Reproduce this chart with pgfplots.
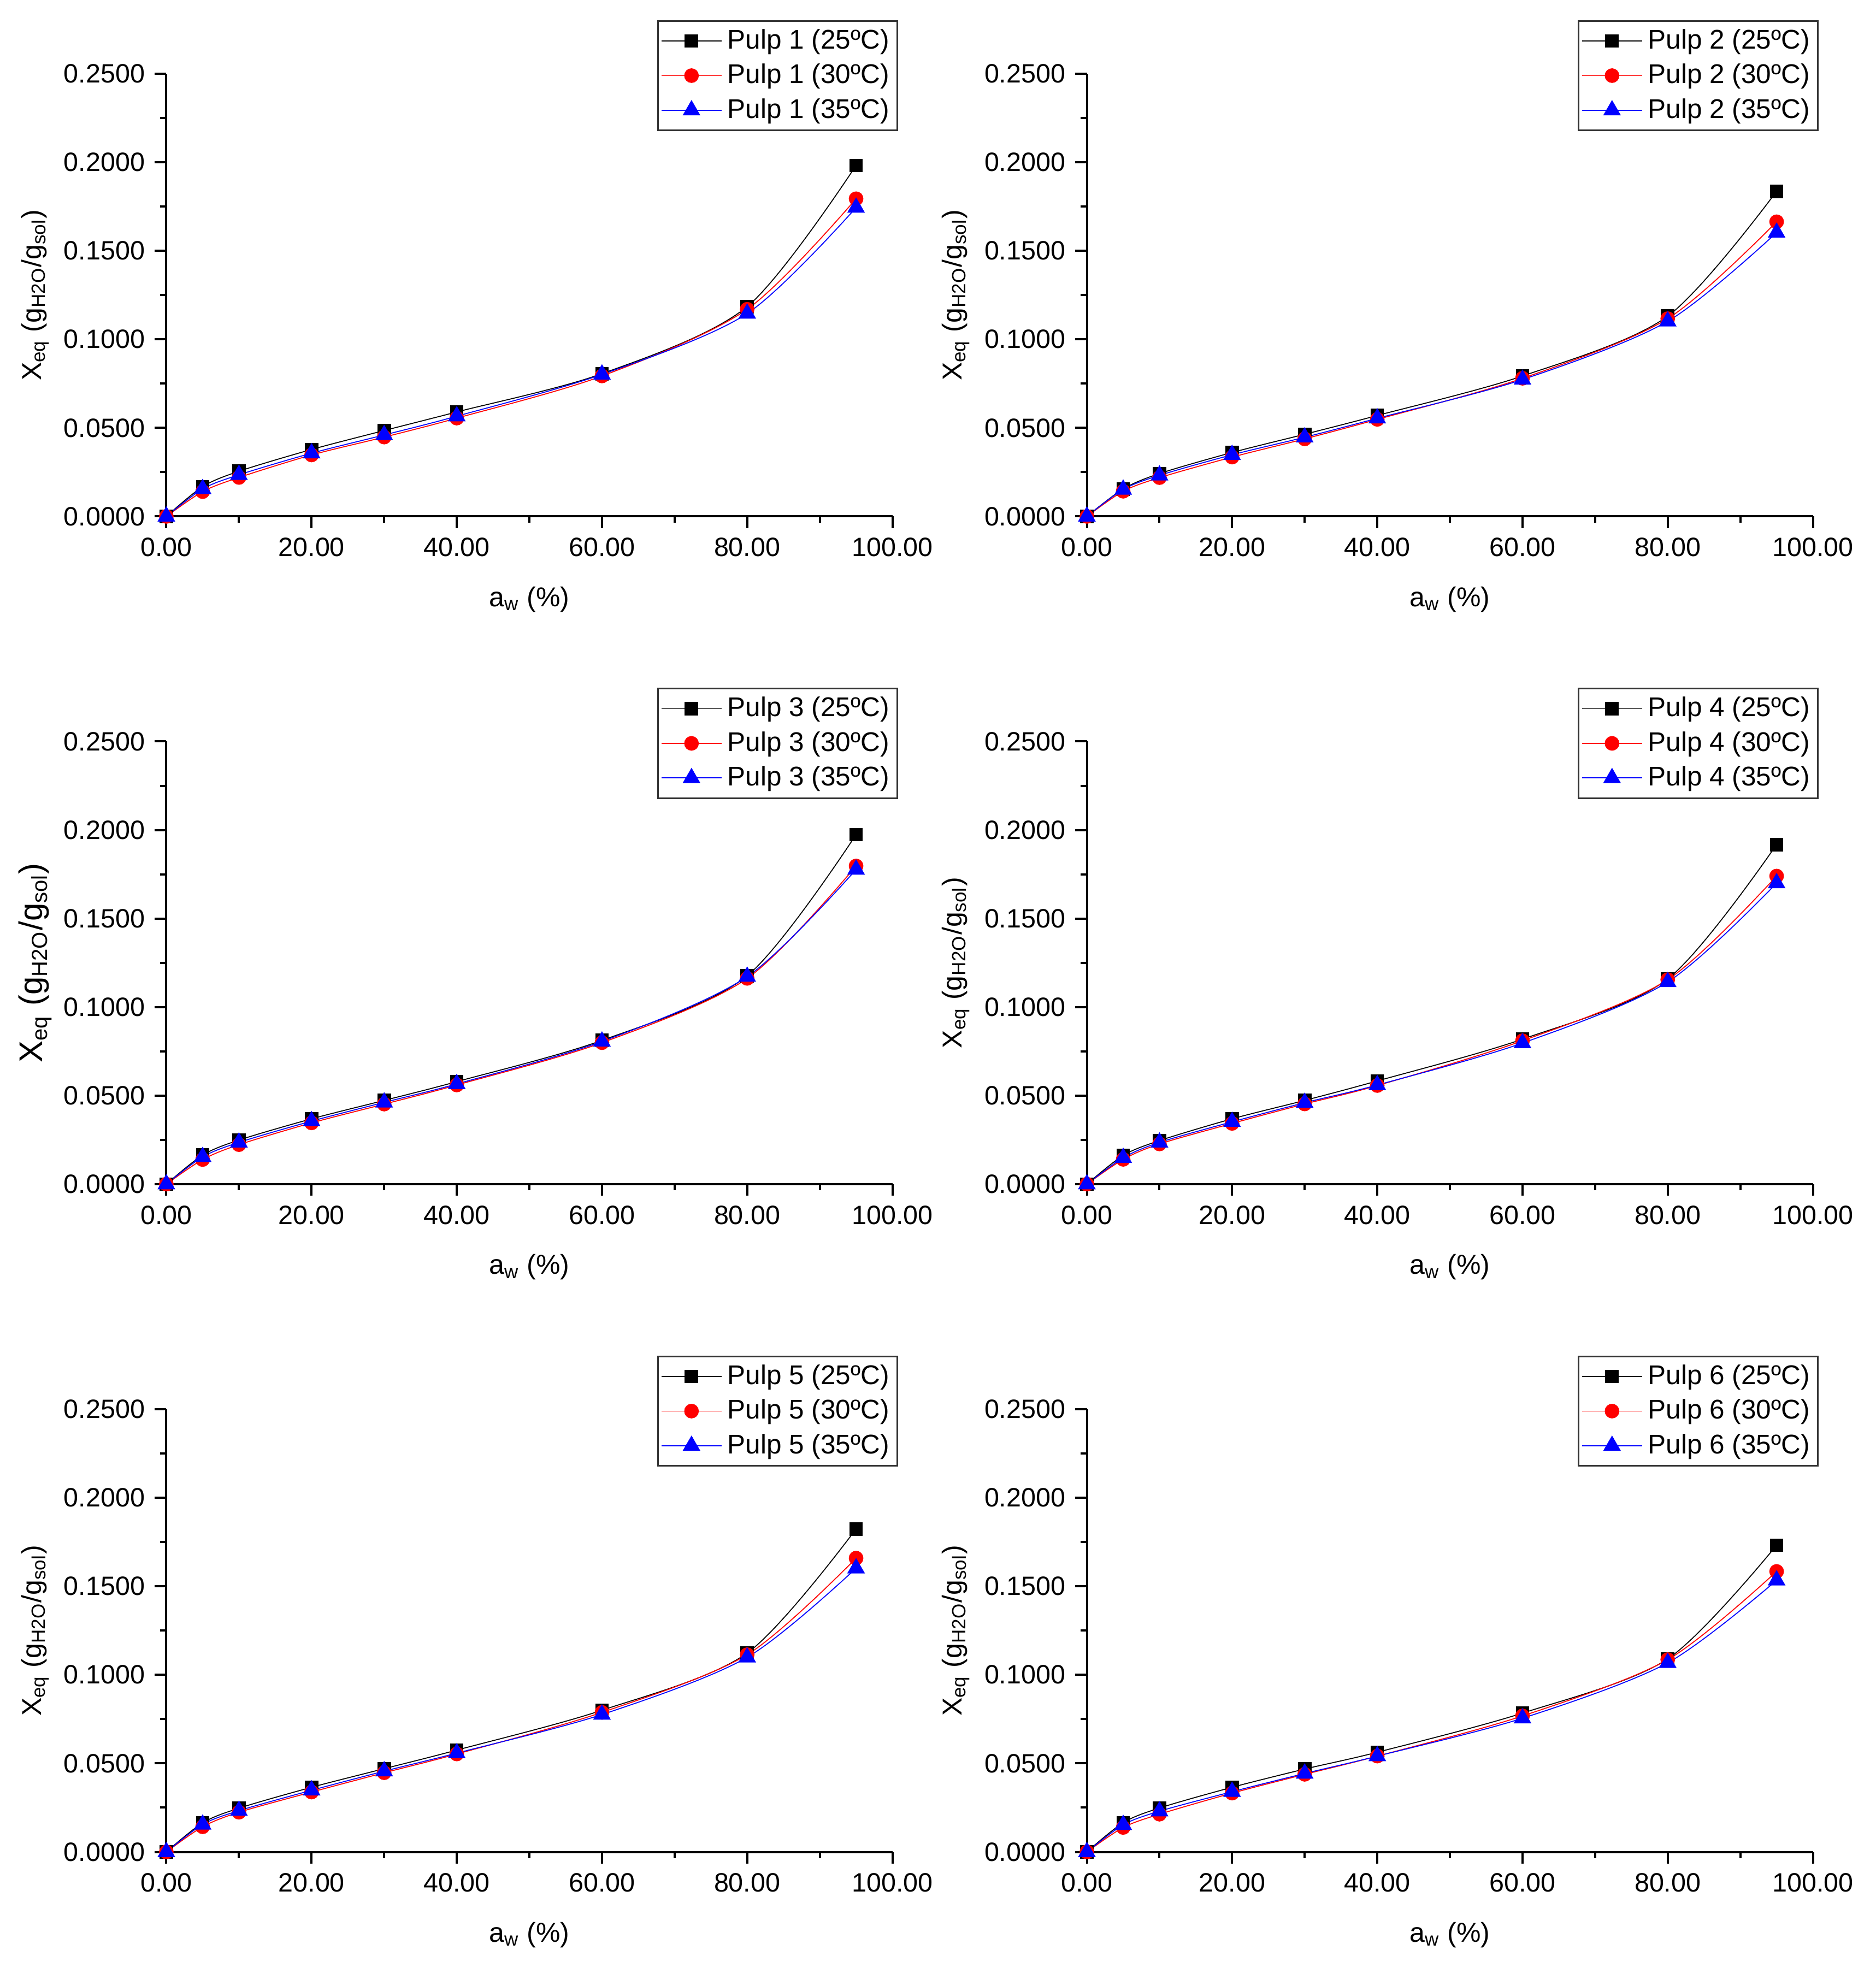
\documentclass[border=0pt]{standalone}
\usepackage{fontspec}
\setmainfont{Liberation Sans}
\usepackage{pgfplots}
\usepackage{pgfplotstable}
\pgfplotsset{compat=1.18}

\pgfplotstableread{
aw a b c
0 0 0 0
5 0.0168 0.0140 0.0155
10 0.0255 0.0220 0.0235
20 0.0378 0.0347 0.0357
30 0.0485 0.0448 0.0460
40 0.0590 0.0555 0.0566
60 0.0806 0.0793 0.0802
80 0.1185 0.1170 0.1146
95 0.1982 0.1794 0.1744
}\pone
\pgfplotstableread{
aw a b c
0 0 0 0
5 0.0155 0.0142 0.0152
10 0.0242 0.0219 0.0232
20 0.0361 0.0335 0.0348
30 0.0464 0.0438 0.0447
40 0.0570 0.0548 0.0554
60 0.0793 0.0780 0.0773
80 0.1131 0.1117 0.1102
95 0.1836 0.1664 0.1603
}\ptwo
\pgfplotstableread{
aw a b c
0 0 0 0
5 0.0164 0.0139 0.0154
10 0.0249 0.0223 0.0236
20 0.0369 0.0346 0.0356
30 0.0473 0.0452 0.0462
40 0.0579 0.0560 0.0566
60 0.0812 0.0799 0.0806
80 0.1177 0.1162 0.1172
95 0.1974 0.1797 0.1777
}\pthree
\pgfplotstableread{
aw a b c
0 0 0 0
5 0.0162 0.0140 0.0149
10 0.0246 0.0227 0.0236
20 0.0369 0.0343 0.0352
30 0.0473 0.0453 0.0460
40 0.0583 0.0557 0.0560
60 0.0819 0.0810 0.0797
80 0.1159 0.1155 0.1142
95 0.1918 0.1740 0.1700
}\pfour
\pgfplotstableread{
aw a b c
0 0 0 0
5 0.0164 0.0142 0.0155
10 0.0247 0.0224 0.0233
20 0.0365 0.0338 0.0348
30 0.0470 0.0447 0.0456
40 0.0575 0.0553 0.0558
60 0.0800 0.0788 0.0776
80 0.1123 0.1114 0.1099
95 0.1824 0.1659 0.1602
}\pfive
\pgfplotstableread{
aw a b c
0 0 0 0
5 0.0165 0.0138 0.0153
10 0.0248 0.0213 0.0230
20 0.0365 0.0332 0.0340
30 0.0468 0.0438 0.0443
40 0.0563 0.0541 0.0541
60 0.0784 0.0768 0.0755
80 0.1090 0.1086 0.1068
95 0.1732 0.1584 0.1534
}\psix

\pgfplotsset{
  pulp/.style={
    scale only axis, width=265.8pt, height=162.1pt,
    xmin=0, xmax=100, ymin=0, ymax=0.25,
    axis lines=left, axis line style={-, line width=0.8pt, black},
    xtick={0,20,40,60,80,100}, minor x tick num=1,
    ytick={0,0.05,0.1,0.15,0.2,0.25}, minor y tick num=1,
    tick align=outside, major tick length=4.3pt, minor tick length=2.3pt,
    tick style={line width=0.8pt, black},
    scaled x ticks=false, scaled y ticks=false,
    /pgf/number format/assume math mode=true,
    tick label style={font=\fontsize{9.7}{11}\selectfont},
    xticklabel style={/pgf/number format/.cd, fixed, fixed zerofill, precision=2},
    yticklabel style={/pgf/number format/.cd, fixed, fixed zerofill, precision=4},
    xlabel={a\textsubscript{w} (\%)},
    xlabel style={at={(axis description cs:0.5,0)}, anchor=base, yshift=-33pt, font=\fontsize{10}{12}\selectfont},
    ylabel={X\textsubscript{eq} (g\textsubscript{H2O}/g\textsubscript{sol})},
    legend style={at={(rel axis cs:1.008,1.121)}, anchor=north east,
      draw=black!80, line width=0.6pt, font=\fontsize{9.9}{11}\selectfont,
      inner sep=1pt, row sep=0pt, nodes={inner sep=2pt}},
    legend cell align=left,
    legend image code/.code={\draw[mark repeat=2,mark phase=2,##1] plot coordinates {(0pt,0pt) (11pt,0pt) (22pt,0pt)};},
  },
  sa/.style={color=black, line width=0.35pt, mark=square*, mark size=2.3pt, smooth},
  sb/.style={color=red, line width=0.35pt, mark=*, mark size=2.5pt, smooth},
  sc/.style={color=blue, line width=0.35pt, mark=triangle*, mark size=3.4pt, smooth},
}

\newcommand{\panel}[5]{%
\begin{axis}[pulp, at={(#1,#2)}, anchor=south west,
  ylabel style={at={([xshift=-48pt]axis description cs:0,0.5)}, anchor=center, font=#5}]
\addplot[sa] table[x=aw,y=a]{#3}; \addlegendentry{Pulp #4 (25ºC)}
\addplot[sb] table[x=aw,y=b]{#3}; \addlegendentry{Pulp #4 (30ºC)}
\addplot[sc] table[x=aw,y=c]{#3}; \addlegendentry{Pulp #4 (35ºC)}
\end{axis}}

\begin{document}
\begin{tikzpicture}
\useasboundingbox (0,0) rectangle (686.8pt,722.8pt);
\panel{60.9pt}{533.7pt}{\pone}{1}{\fontsize{10}{12}\selectfont}
\panel{397.9pt}{533.7pt}{\ptwo}{2}{\fontsize{10}{12}\selectfont}
\panel{60.9pt}{289.2pt}{\pthree}{3}{\fontsize{12}{14}\selectfont}
\panel{397.9pt}{289.2pt}{\pfour}{4}{\fontsize{10}{12}\selectfont}
\panel{60.9pt}{44.7pt}{\pfive}{5}{\fontsize{10}{12}\selectfont}
\panel{397.9pt}{44.7pt}{\psix}{6}{\fontsize{10}{12}\selectfont}
\end{tikzpicture}
\end{document}
